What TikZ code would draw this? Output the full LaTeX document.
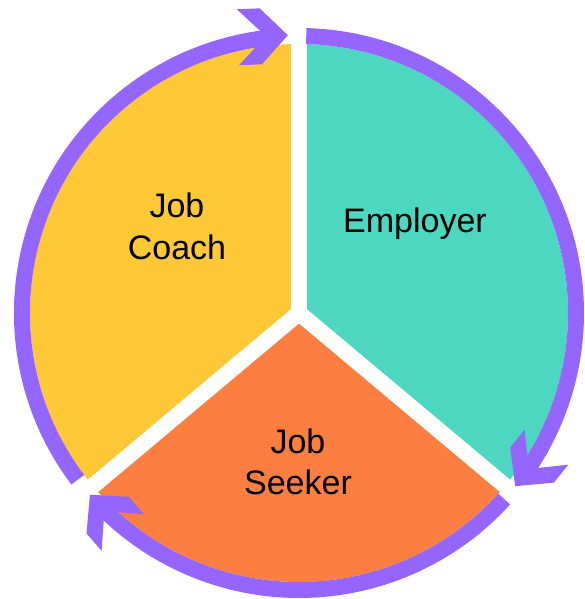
\documentclass[tikz,border=0pt]{standalone}
\usepackage{fontspec}
\setmainfont{Liberation Sans}
\definecolor{cyellow}{HTML}{FFC837}
\definecolor{cteal}{HTML}{4DD6C0}
\definecolor{corange}{HTML}{FC7F41}
\definecolor{cpurple}{HTML}{9466FF}
\begin{document}
\begin{tikzpicture}[
  ring/.style={draw=cpurple, line width=16pt},
  gapline/.style={draw=white, line width=16pt, line cap=round},
  chev/.style={fill=cpurple},
  lbl/.style={anchor=base, inner sep=0pt, font=\fontsize{34}{40}\selectfont}
]
\useasboundingbox (-299pt,-286pt) rectangle (286pt,313pt);
\coordinate (O) at (0pt,0pt);
% sectors
\fill[cyellow] (O) -- (90:269pt) arc[start angle=90,end angle=220,radius=269pt] -- cycle;
\fill[cteal] (O) -- (-40:269pt) arc[start angle=-40,end angle=90,radius=269pt] -- cycle;
\fill[corange] (O) -- (220:269pt) arc[start angle=220,end angle=320,radius=269pt] -- cycle;
% white gaps
\coordinate (g1) at (90:272pt);
\coordinate (g2) at (220:272pt);
\coordinate (g3) at (320:272pt);
\draw[gapline] (O) -- (g1);
\draw[gapline] (O) -- (g2);
\draw[gapline] (O) -- (g3);
% purple ring arcs
\draw[ring] (217:277pt) arc[start angle=217, end angle=95.4, radius=277pt];
\draw[ring] (88.5:277pt) arc[start angle=88.5, end angle=-35.6, radius=277pt];
\draw[ring] (317.8:277pt) arc[start angle=317.8, end angle=224.1, radius=277pt];
% arrowheads
\fill[chev, shift={(92.3:278pt)}, rotate=2.3] (0pt,0pt) -- (-27pt,28pt) -- (-50pt,28pt) -- (-22pt,0pt) -- (-50pt,-28pt) -- (-27pt,-28pt) -- cycle;
\fill[chev, shift={(-38.7:277pt)}, rotate=-128.7] (0pt,0pt) -- (-27pt,28pt) -- (-50pt,28pt) -- (-22pt,0pt) -- (-50pt,-28pt) -- (-27pt,-28pt) -- cycle;
\fill[chev, shift={(221:277pt)}, rotate=131] (0pt,0pt) -- (-27pt,28pt) -- (-50pt,28pt) -- (-22pt,0pt) -- (-50pt,-28pt) -- (-27pt,-28pt) -- cycle;
% labels
\node[lbl] (coachA) at (-122pt,95pt) {Job};
\node[lbl] (coachB) at (-122pt,53pt) {Coach};
\node[lbl] (emp) at (116pt,80pt) {Employer};
\node[lbl] (seekA) at (-1pt,-140pt) {Job};
\node[lbl] (seekB) at (-1pt,-181pt) {Seeker};
\end{tikzpicture}
\end{document}
